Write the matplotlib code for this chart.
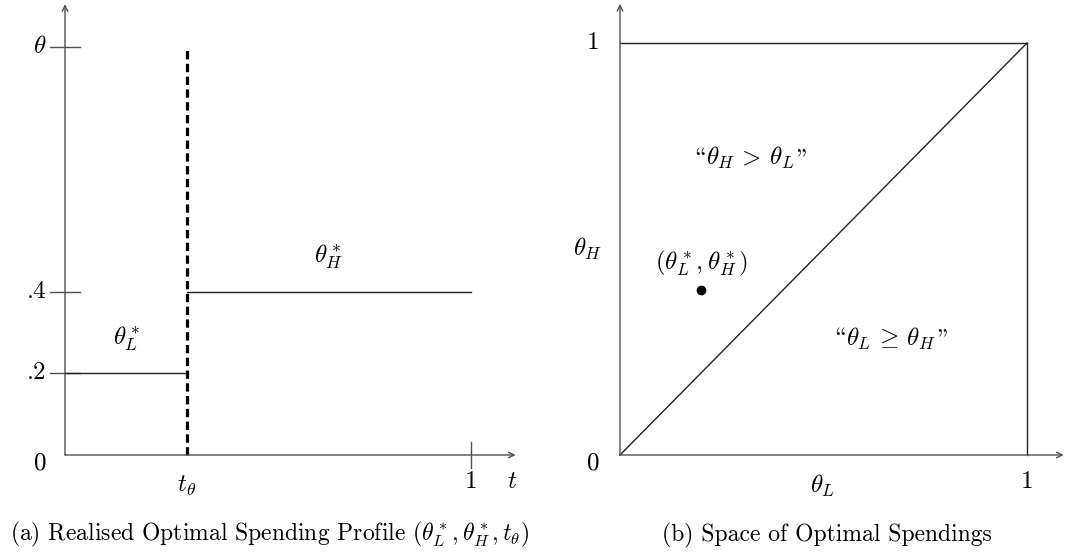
import matplotlib
matplotlib.use("Agg")
import matplotlib.pyplot as plt
from matplotlib.offsetbox import TextArea, HPacker, AnnotationBbox

# -------------------------------------------------
# Data
# -------------------------------------------------

t_switch = 0.3          # t_theta
theta_low = 0.2         # theta_L*
theta_high = 0.4        # theta_H*
t_end = 1.0

y_ticks = [0.2, 0.4, 1.0]
y_tick_labels = [".2", ".4", r"$\theta$"]

point_L = 0.2
point_H = 0.4

# -------------------------------------------------
# Style
# -------------------------------------------------

plt.rcParams["font.family"] = ["cmr10", "Liberation Serif"]
plt.rcParams["mathtext.fontset"] = "cm"
plt.rcParams["axes.unicode_minus"] = False

AXIS_COLOR = "#505050"
LINE_COLOR = "#222222"
FS = 18
CAP_FS = 17

# cmr10 keeps the TeX layout: opening quote sits on "\", closing on '"'
LQ, RQ = "\\", '"'

W, H = 1065, 552
fig = plt.figure(figsize=(W / 100, H / 100), dpi=100)


def px_axes(x0, y0, w, h):
    # x0, y0 = pixel position of the origin (from top-left), w/h = pixels per unit
    ax = fig.add_axes([x0 / W, (H - y0) / H, w / W, h / H])
    ax.set_xlim(0, 1)
    ax.set_ylim(0, 1)
    ax.axis("off")
    return ax


def draw_axes_arrows(ax, xmax, ymax):
    kw = dict(arrowstyle="->", color=AXIS_COLOR, lw=1.0, shrinkA=0, shrinkB=0,
              mutation_scale=10)
    ax.annotate("", xy=(xmax, 0), xytext=(0, 0), arrowprops=kw, annotation_clip=False)
    ax.annotate("", xy=(0, ymax), xytext=(0, 0), arrowprops=kw, annotation_clip=False)


def quoted(ax, x, y, math):
    # quotes and the math part as separate pieces, packed on one baseline
    props = dict(fontsize=FS)
    parts = [TextArea(LQ, textprops=props),
             TextArea(math, textprops=props),
             TextArea(RQ, textprops=props)]
    box = HPacker(children=parts, pad=0, sep=1, align="baseline")
    ab = AnnotationBbox(box, (x, y), frameon=False, box_alignment=(0.5, 0.5),
                        annotation_clip=False)
    ax.add_artist(ab)


# -------------------------------------------------
# (a) Realised optimal spending profile
# -------------------------------------------------

ax1 = px_axes(65, 455, 406, 408)
draw_axes_arrows(ax1, 1.11, 1.105)

for yt, lab in zip(y_ticks, y_tick_labels):
    ax1.plot([-0.036, 0.036], [yt, yt], color=AXIS_COLOR, lw=1.0, clip_on=False)
    ax1.text(-0.045, yt, lab, ha="right", va="center", fontsize=FS)
ax1.text(-0.045, -0.02, "0", ha="right", va="center", fontsize=FS)

ax1.plot([t_end, t_end], [-0.032, 0.032], color=AXIS_COLOR, lw=1.0, clip_on=False)

ax1.plot([0, t_switch], [theta_low, theta_low], color=LINE_COLOR, lw=1.0, clip_on=False)
ax1.plot([t_switch, t_end], [theta_high, theta_high], color=LINE_COLOR, lw=1.0,
         clip_on=False)
ax1.plot([t_switch, t_switch], [0, 1.0], color="black", lw=2.3,
         linestyle=(0, (2.6, 1.4)), clip_on=False)

ax1.text(0.153, theta_low + 0.085, r"$\theta^*_L$", ha="center", va="center",
         fontsize=FS)
ax1.text(0.65, theta_high + 0.085, r"$\theta^*_H$",
         ha="center", va="center", fontsize=FS)

ax1.text(t_switch, -0.075, r"$t_\theta$", ha="center", va="center", fontsize=FS)
ax1.text(t_end, -0.065, "1", ha="center", va="center", fontsize=FS)
ax1.text(1.1, -0.065, r"$t$", ha="center", va="center", fontsize=FS)

ax1.text(0.505, -0.195,
         r"(a) Realised Optimal Spending Profile $(\theta^*_L, \theta^*_H, t_\theta)$",
         ha="center", va="center", fontsize=CAP_FS)

# -------------------------------------------------
# (b) Space of optimal spendings
# -------------------------------------------------

ax2 = px_axes(620, 455, 407, 412)
draw_axes_arrows(ax2, 1.09, 1.095)

ax2.plot([0, 1], [1, 1], color=LINE_COLOR, lw=1.0, clip_on=False)
ax2.plot([1, 1], [0, 1], color=LINE_COLOR, lw=1.0, clip_on=False)
ax2.plot([0, 1], [0, 1], color=LINE_COLOR, lw=1.0, clip_on=False)

ax2.plot([point_L], [point_H], "o", color="black", markersize=6, clip_on=False)
ax2.text(point_L, point_H + 0.065, r"$(\theta^*_L, \theta^*_H)$", ha="center",
         va="center", fontsize=FS)

quoted(ax2, 0.32, 0.72, r"$\theta_H\,>\,\theta_L$")
quoted(ax2, 0.665, 0.283, r"$\theta_L\,\geq\,\theta_H$")

ax2.text(-0.05, 1.0, "1", ha="right", va="center", fontsize=FS)
ax2.text(-0.05, -0.02, "0", ha="right", va="center", fontsize=FS)
ax2.text(-0.045, 0.5, r"$\theta_H$", ha="right", va="center", fontsize=FS)
ax2.text(0.497, -0.075, r"$\theta_L$", ha="center", va="center", fontsize=FS)
ax2.text(1.0, -0.065, "1", ha="center", va="center", fontsize=FS)

ax2.text(0.508, -0.195, "(b) Space of Optimal Spendings", ha="center", va="center",
         fontsize=CAP_FS)

fig.savefig("out.png", dpi=100, facecolor="white")
